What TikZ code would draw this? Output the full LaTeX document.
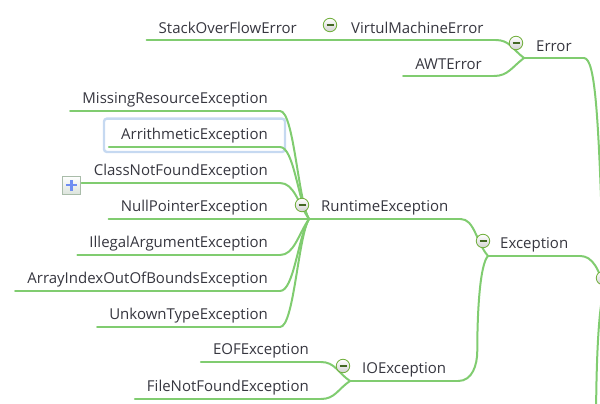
\documentclass[tikz,border=0pt]{standalone}
\usepackage{fontspec}
\setmainfont{Open Sans}
\usetikzlibrary{calc,positioning,fit}
\definecolor{mmgreen}{HTML}{80CC70}
\definecolor{mmtext}{HTML}{36363F}
\definecolor{mmfold}{HTML}{6FAE3A}
\definecolor{mmsel}{HTML}{C6D9F1}
\definecolor{mmplus}{HTML}{6F8EF2}
\definecolor{mmbox}{HTML}{A9BCA9}

\begin{document}
\begin{tikzpicture}[
  x=1pt,y=-1pt,
  topic/.style={inner xsep=12pt,inner ysep=0pt,minimum height=23pt,
                text=mmtext,font=\fontsize{15}{18}\selectfont},
  leaf/.style={topic,anchor=south east},
  parent/.style={topic,anchor=south west},
  link/.style={draw=mmgreen,line width=2pt,line cap=round},
  fold/.style={circle,draw=mmfold,line width=0.8pt,minimum size=13.5pt,inner sep=0pt,
               top color=white,bottom color=black!18,
               path picture={\draw[mmfold!60!black,line width=1.2pt]
                 ([xshift=-3.5pt]path picture bounding box.center) --
                 ([xshift=3.5pt]path picture bounding box.center);}},
  expand/.style={rectangle,draw=mmbox,line width=0.8pt,minimum size=18pt,inner sep=0pt,
               top color=white,bottom color=mmbox!40,
               path picture={\draw[mmplus,line width=2.6pt]
                 ([xshift=-5.5pt]path picture bounding box.center) --
                 ([xshift=5.5pt]path picture bounding box.center)
                 ([yshift=-5.5pt]path picture bounding box.center) --
                 ([yshift=5.5pt]path picture bounding box.center);}},
  selbox/.style={draw=mmsel,line width=2.4pt,rounded corners=3pt,inner sep=5pt}
]
\useasboundingbox (0,0) rectangle (600,404);
\clip (0,0) rectangle (600,404);

% Error branch
\node[parent] (err) at (524,58) {Error};
\node[parent] (vme) at (339,40) {VirtulMachineError};
\node[leaf] (stack) at (309,40) {StackOverFlowError};
\node[leaf] (awt) at (494,76) {AWTError};

% Exception branch
\node[parent] (exc) at (488,256) {Exception};
\node[parent] (rt) at (309,219) {RuntimeException};
\node[parent] (io) at (350,381) {IOException};

\node[leaf] (mre) at (280,111) {MissingResourceException};
\node[leaf] (ari) at (280,147) {ArrithmeticException};
\node[leaf] (cnf) at (280,183) {ClassNotFoundException};
\node[leaf] (npe) at (280,219) {NullPointerException};
\node[leaf] (iae) at (280,255) {IllegalArgumentException};
\node[leaf] (aio) at (280,291) {ArrayIndexOutOfBoundsException};
\node[leaf] (ukt) at (280,327) {UnkownTypeException};

\node[leaf] (eof) at (321,362) {EOFException};
\node[leaf] (fnf) at (321,399) {FileNotFoundException};

\coordinate (root) at (604,290);
\coordinate (rootnext) at (596,430);
\coordinate (iobend) at ($(io.south east)+(19,-30)$);

\node[selbox,fit=(ari)] (arisel) {};
\node[expand] (cnfplus) at ($(cnf.south west)+(-10,2)$) {};

% underlines
\foreach \n in {stack,vme,awt,err,exc,rt,io,mre,ari,cnf,npe,iae,aio,ukt,eof,fnf}
  \draw[link] (\n.south west) -- (\n.south east);

% connectors
\draw[link] (root) .. controls +(-5,-170) and +(12,0) .. (err.south east);
\draw[link] (root) .. controls +(-4,-20) and +(12,0) .. (exc.south east);
\draw[link] (root) .. controls +(-6,20) and +(0,-60) .. (rootnext);

\draw[link] (err.south west) .. controls +(-12,-9) and +(14,0) .. (vme.south east);
\draw[link] (err.south west) .. controls +(-12,9) and +(14,0) .. (awt.south east);
\draw[link] (vme.south west) -- (stack.south east);

\draw[link] (exc.south west) .. controls +(-12,-14) and +(14,0) .. (rt.south east);
\draw[link] (exc.south west) .. controls +(-8,8) and +(0,-40) .. (iobend)
  .. controls +(0,14) and +(14,0) .. (io.south east);

\draw[link] (rt.south west) .. controls +(-11,-18) and +(14,0) .. (mre.south east);
\draw[link] (rt.south west) .. controls +(-11,-18) and +(14,0) .. (ari.south east);
\draw[link] (rt.south west) .. controls +(-11,-16) and +(14,0) .. (cnf.south east);
\draw[link] (rt.south west) -- (npe.south east);
\draw[link] (rt.south west) .. controls +(-11,16) and +(14,0) .. (iae.south east);
\draw[link] (rt.south west) .. controls +(-11,18) and +(14,0) .. (aio.south east);
\draw[link] (rt.south west) .. controls +(-11,18) and +(14,0) .. (ukt.south east);

\draw[link] (io.south west) .. controls +(-12,-8) and +(14,0) .. (eof.south east);
\draw[link] (io.south west) .. controls +(-12,8) and +(14,0) .. (fnf.south east);

% fold markers
\node[fold] (rootfold) at ($(root)+(-1,-12)$) {};
\node[fold] (errfold) at ($(err.south west)+(-8,-15)$) {};
\node[fold] (vmefold) at ($(vme.south west)+(-9,-15)$) {};
\node[fold] (excfold) at ($(exc.south west)+(-5,-15)$) {};
\node[fold] (rtfold) at ($(rt.south west)+(-7,-14)$) {};
\node[fold] (iofold) at ($(io.south west)+(-7,-15)$) {};
\end{tikzpicture}
\end{document}
